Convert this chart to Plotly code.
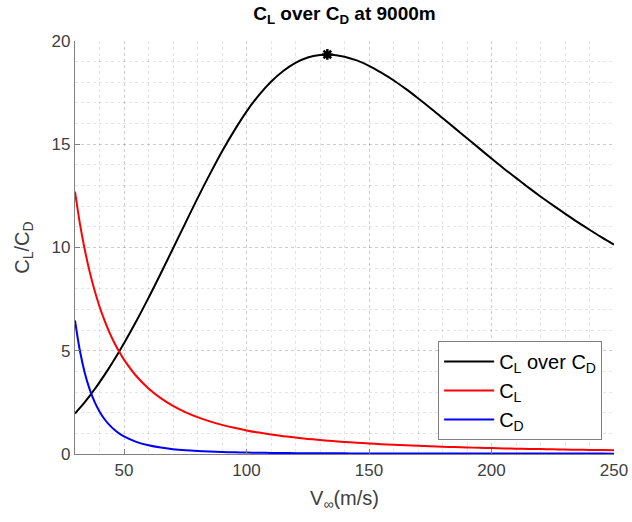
import plotly.graph_objects as go

V = [30, 32, 34, 36, 38, 40, 42, 44, 46, 48, 50, 55, 60, 65, 70, 75, 80, 85, 90, 95,
     100, 105, 110, 115, 120, 125, 130, 135, 140, 145, 150, 155, 160, 165, 170, 175,
     180, 185, 190, 195, 200, 205, 210, 215, 220, 225, 230, 235, 240, 245, 250]
CL = [12.70, 11.16, 9.888, 8.819, 7.915, 7.144, 6.480, 5.904, 5.402, 4.961, 4.572,
      3.778, 3.175, 2.705, 2.333, 2.032, 1.786, 1.582, 1.411, 1.267, 1.143, 1.037,
      0.9446, 0.8643, 0.7938, 0.7315, 0.6763, 0.6272, 0.5832, 0.5436, 0.5080, 0.4758,
      0.4465, 0.4198, 0.3955, 0.3732, 0.3528, 0.3340, 0.3166, 0.3006, 0.2858, 0.2720,
      0.2592, 0.2473, 0.2362, 0.2258, 0.2161, 0.2070, 0.1984, 0.1904, 0.1829]
CD = [6.468, 5.000, 3.928, 3.128, 2.523, 2.058, 1.696, 1.411, 1.184, 1.001, 0.853,
      0.588, 0.420, 0.3095, 0.2344, 0.1819, 0.1443, 0.1168, 0.0963, 0.0809, 0.0690,
      0.0597, 0.0524, 0.0466, 0.0419, 0.0381, 0.0350, 0.0324, 0.0303, 0.0285, 0.0270,
      0.0258, 0.0247, 0.0238, 0.0230, 0.0223, 0.0217, 0.0212, 0.0207, 0.0203, 0.0200,
      0.0197, 0.0194, 0.0192, 0.0189, 0.0187, 0.0186, 0.0184, 0.0183, 0.0182, 0.0180]
LD = [1.963, 2.232, 2.517, 2.820, 3.137, 3.471, 3.820, 4.184, 4.562, 4.955, 5.361,
      6.427, 7.559, 8.741, 9.951, 11.17, 12.38, 13.54, 14.65, 15.66, 16.58, 17.37,
      18.03, 18.55, 18.94, 19.20, 19.32, 19.34, 19.24, 19.06, 18.80, 18.47, 18.10,
      17.68, 17.23, 16.76, 16.27, 15.78, 15.29, 14.80, 14.31, 13.83, 13.37, 12.91,
      12.47, 12.05, 11.64, 11.24, 10.86, 10.49, 10.14]
V_max = [133]
LD_max = [19.35]

font = "Liberation Sans, Arial, sans-serif"
fig = go.Figure()
fig.add_trace(go.Scatter(x=V, y=LD, mode="lines", name="C<sub>L</sub> over C<sub>D</sub>",
                         line=dict(color="black", width=2, shape="spline")))
fig.add_trace(go.Scatter(x=V, y=CL, mode="lines", name="C<sub>L</sub>",
                         line=dict(color="#ff0000", width=2, shape="spline")))
fig.add_trace(go.Scatter(x=V, y=CD, mode="lines", name="C<sub>D</sub>",
                         line=dict(color="#0000ff", width=2, shape="spline")))
fig.add_trace(go.Scatter(x=V_max, y=LD_max, mode="markers", showlegend=False,
                         marker=dict(symbol="asterisk-open", size=9, color="black",
                                     line=dict(color="black", width=2.5))))

grid = "rgba(0,0,0,0.10)"
axis_common = dict(showline=True, linecolor="#808080", linewidth=1.2, ticks="inside",
                   ticklen=5, tickcolor="#808080", showgrid=True, gridcolor=grid,
                   griddash="dot", gridwidth=1, zeroline=False, automargin=False,
                   tickfont=dict(size=17, color="#404040", family=font))
fig.update_layout(
    width=632, height=522,
    margin=dict(l=75, r=18, t=41, b=68),
    plot_bgcolor="white", paper_bgcolor="white",
    font=dict(family=font, color="#262626"),
    title=dict(text="<b>C<sub>L</sub> over C<sub>D</sub> at 9000m</b>", x=0.545, xanchor="center",
               y=0.988, yanchor="top", font=dict(size=19, color="black", family=font)),
    xaxis=dict(range=[30, 250], tickvals=[50, 100, 150, 200, 250],
               minor=dict(dtick=10, tick0=0, showgrid=True, gridcolor=grid, griddash="dot", ticks=""),
               title=dict(text="V<sub>∞</sub>(m/s)", font=dict(size=20, family=font, color="#404040"), standoff=12),
               **axis_common),
    yaxis=dict(range=[0, 20], tickvals=[0, 5, 10, 15, 20],
               minor=dict(dtick=1, showgrid=True, gridcolor=grid, griddash="dot", ticks=""),
               title=dict(text="C<sub>L</sub>/C<sub>D</sub>", font=dict(size=20, family=font, color="#404040"), standoff=16),
               **axis_common),
    legend=dict(x=0.978, y=0.034, xanchor="right", yanchor="bottom",
                bgcolor="white", bordercolor="#808080", borderwidth=1,
                font=dict(size=20, color="black", family=font), itemwidth=50,
                tracegroupgap=2),
)
fig.write_html("out.html", config={"displayModeBar": False, "responsive": False},
               post_script="document.body.style.margin='0';document.body.style.overflow='hidden';document.documentElement.style.overflow='hidden';")
